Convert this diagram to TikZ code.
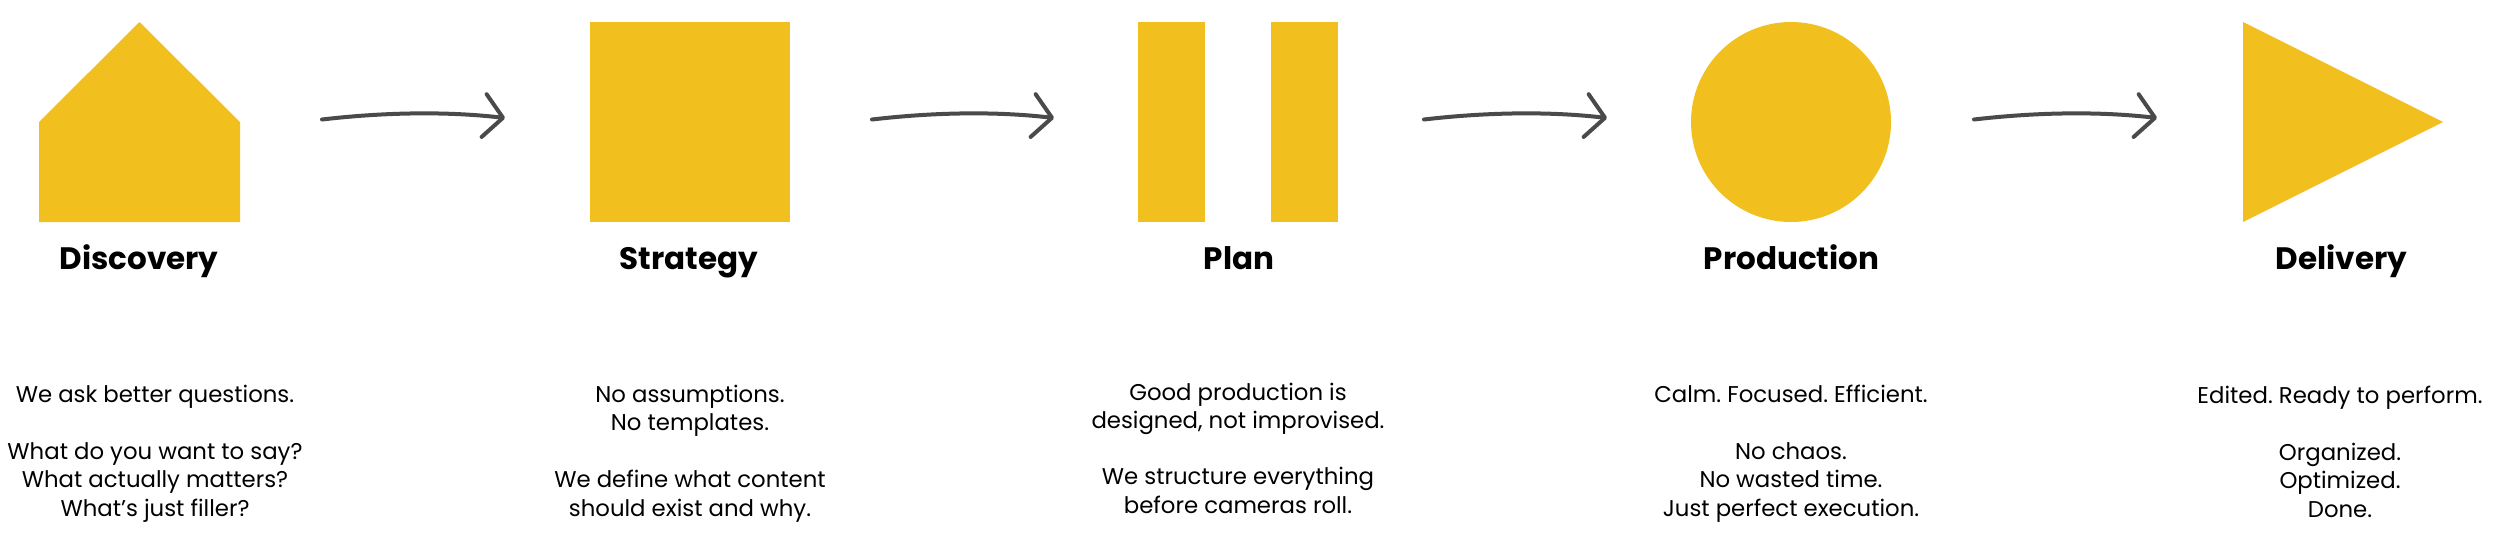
\documentclass[tikz,border=0pt]{standalone}
\usepackage{fontspec}
\setmainfont{Poppins}
\usepackage{tikz}
\usetikzlibrary{positioning,arrows.meta}
\frenchspacing

\definecolor{stageyellow}{HTML}{F1BF1E}
\definecolor{flowgray}{HTML}{4A4A4A}

\begin{document}
\begin{tikzpicture}[
  x=1pt,y=-1pt,
  stagefill/.style={fill=stageyellow,draw=none},
  stagename/.style={font=\fontsize{31}{36}\selectfont\bfseries,anchor=base,inner sep=0pt},
  stageblurb/.style={font=\fontsize{22.8}{28.5}\selectfont,align=center,anchor=base,inner sep=0pt},
  flow/.style={draw=flowgray,line width=4pt,line cap=round,-{Straight Barb[length=19pt,width=43pt,round]}},
]
\useasboundingbox (0,0) rectangle (2500,547);

% Stage 1: Discovery
\fill[stagefill] (39,222) -- (39,122) -- (139.5,22) -- (240,122) -- (240,222) -- cycle;
\node[stagename] (discovery) at (139,269.3) {Discovery};
\node[stageblurb] (discovery-txt) at (155,516) {We ask better questions.\\[28.5pt]What do you want to say?\\What actually matters?\\What’s just filler?};

% Stage 2: Strategy
\fill[stagefill] (590,22) rectangle (790,222);
\node[stagename] (strategy) at (689,269.3) {Strategy};
\node[stageblurb] (strategy-txt) at (690,516) {No assumptions.\\No templates.\\[28.5pt]We define what content\\should exist and why.};

% Stage 3: Plan
\fill[stagefill] (1138,22) rectangle (1205,222);
\fill[stagefill] (1271,22) rectangle (1338,222);
\node[stagename] (plan) at (1239,269.3) {Plan};
\node[stageblurb] (plan-txt) at (1238,513) {Good production is\\designed, not improvised.\\[27.5pt]We structure everything\\before cameras roll.};

% Stage 4: Production
\fill[stagefill] (1791,122) circle[radius=100];
\node[stagename] (production) at (1791.5,269.3) {Production};
\node[stageblurb] (production-txt) at (1791,516) {Calm. Focused. Efficient.\\[28.5pt]No chaos.\\No wasted time.\\Just perfect execution.};

% Stage 5: Delivery
\fill[stagefill] (2243,22) -- (2443,122) -- (2243,222) -- cycle;
\node[stagename] (delivery) at (2341.5,269.3) {Delivery};
\node[stageblurb] (delivery-txt) at (2340,517) {Edited. Ready to perform.\\[28.5pt]Organized.\\Optimized.\\Done.};

% Hand-drawn arrows between stages
\coordinate (out1) at (322,119.5);  \coordinate (in1) at (505,118);
\coordinate (out2) at (872,119.5);  \coordinate (in2) at (1054,118);
\coordinate (out3) at (1424,119.5); \coordinate (in3) at (1607,118);
\coordinate (out4) at (1974,119.5); \coordinate (in4) at (2157,118);

\draw[flow] (out1) .. controls +(60,-7) and +(-60,-7) .. (in1);
\draw[flow] (out2) .. controls +(60,-7) and +(-60,-7) .. (in2);
\draw[flow] (out3) .. controls +(60,-7) and +(-60,-7) .. (in3);
\draw[flow] (out4) .. controls +(60,-7) and +(-60,-7) .. (in4);

\end{tikzpicture}
\end{document}
